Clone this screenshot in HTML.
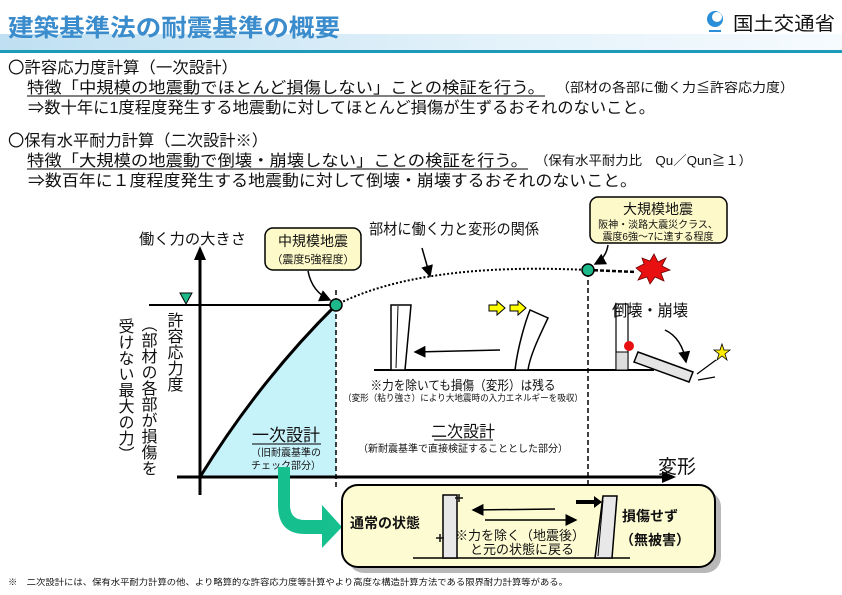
<!DOCTYPE html>
<html><head><meta charset="utf-8"><style>
body{margin:0;background:#fff}
svg{display:block}
text{font-family:"Liberation Sans","Noto Sans CJK JP",sans-serif;fill:#111}
</style></head><body>
<svg width="842" height="595" viewBox="0 0 842 595" xmlns="http://www.w3.org/2000/svg">
<defs>
<linearGradient id="band" x1="0" y1="0" x2="1" y2="0"><stop offset="0" stop-color="#bfe0f2"/><stop offset="0.6" stop-color="#e4f2fa"/><stop offset="1" stop-color="#f6fbfe"/></linearGradient>
<marker id="ah" markerWidth="8" markerHeight="8" refX="7" refY="4" orient="auto"><path d="M0,0 L8,4 L0,8 z" fill="#000"/></marker>
</defs>
<!-- header -->
<rect x="0" y="34" width="842" height="16" fill="url(#band)"/>
<rect x="0" y="50" width="842" height="3" fill="#1d9ab8"/>
<text x="8" y="36" font-size="24" font-weight="bold" style="fill:#3a8ccc" textLength="332" lengthAdjust="spacingAndGlyphs">建築基準法の耐震基準の概要</text>
<circle cx="715" cy="19" r="8" fill="#2a8fd8"/><circle cx="717" cy="17" r="5" fill="#fff"/><rect x="709" y="30" width="12" height="2" fill="#2a8fd8"/>
<text x="733" y="30" font-size="19" textLength="102" lengthAdjust="spacingAndGlyphs">国土交通省</text>
<!-- text lines -->
<g font-size="16">
<text x="8" y="73" textLength="230" lengthAdjust="spacingAndGlyphs">〇許容応力度計算（一次設計）</text>
<text x="27" y="93" textLength="518" lengthAdjust="spacingAndGlyphs">特徴「中規模の地震動でほとんど損傷しない」ことの検証を行う。</text>
<text x="556" y="92" font-size="13" textLength="238" lengthAdjust="spacingAndGlyphs">（部材の各部に働く力≦許容応力度）</text>
<text x="28" y="113" textLength="627" lengthAdjust="spacingAndGlyphs">⇒数十年に1度程度発生する地震動に対してほとんど損傷が生ずるおそれのないこと。</text>
<text x="8" y="146" textLength="260" lengthAdjust="spacingAndGlyphs">〇保有水平耐力計算（二次設計※）</text>
<text x="27" y="166" textLength="501" lengthAdjust="spacingAndGlyphs">特徴「大規模の地震動で倒壊・崩壊しない」ことの検証を行う。</text>
<text x="535" y="165" font-size="13" textLength="217" lengthAdjust="spacingAndGlyphs">（保有水平耐力比　Qu／Qun≧１）</text>
<text x="28" y="186" textLength="609" lengthAdjust="spacingAndGlyphs">⇒数百年に１度程度発生する地震動に対して倒壊・崩壊するおそれのないこと。</text>
</g>
<line x1="27" y1="96" x2="545" y2="96" stroke="#000" stroke-width="1"/>
<line x1="27" y1="169" x2="528" y2="169" stroke="#000" stroke-width="1"/>

<!-- diagram -->
<path d="M200,477 Q260,380 336,305 L336,477 Z" fill="#c6f2fa"/>
<path d="M200,477 Q260,380 336,305" fill="none" stroke="#000" stroke-width="3"/>
<line x1="200" y1="495" x2="200" y2="258" stroke="#000" stroke-width="3"/>
<path d="M200,246 L194,260 L206,260 Z" fill="#000"/>
<line x1="177" y1="477" x2="664" y2="477" stroke="#000" stroke-width="3"/>
<path d="M676,477 L662,471 L662,483 Z" fill="#000"/>
<line x1="149" y1="305" x2="336" y2="305" stroke="#000" stroke-width="2"/>
<path d="M180,293 L192,293 L186,304 Z" fill="#1db98a" stroke="#000" stroke-width="1"/>
<line x1="336" y1="290" x2="336" y2="490" stroke="#000" stroke-width="1.5" stroke-dasharray="5,3"/>
<line x1="588" y1="272" x2="588" y2="492" stroke="#000" stroke-width="1.5" stroke-dasharray="5,3"/>
<path d="M336,305 Q420,262 588,270" fill="none" stroke="#000" stroke-width="2" stroke-dasharray="2,2"/>
<line x1="588" y1="270" x2="636" y2="272" stroke="#000" stroke-width="2.5" stroke-dasharray="4,2"/>
<circle cx="336" cy="305" r="6" fill="#1db98a" stroke="#000" stroke-width="1.5"/>
<circle cx="588" cy="270" r="6" fill="#1db98a" stroke="#000" stroke-width="1.5"/>
<path d="M636,268 L644,264 L642,258 L650,261 L654,254 L658,262 L666,258 L662,266 L670,270 L661,273 L664,281 L655,277 L650,284 L647,277 L638,280 L642,273 Z" fill="#e81010" stroke="#600" stroke-width="0.8"/>
<text x="139" y="244" font-size="15" textLength="107" lengthAdjust="spacingAndGlyphs">働く力の大きさ</text>
<text x="369" y="234" font-size="15" textLength="170" lengthAdjust="spacingAndGlyphs">部材に働く力と変形の関係</text>
<path d="M422,248 L430,276" stroke="#000" stroke-width="1.5" marker-end="url(#ah)"/>
<!-- callouts -->
<rect x="265" y="228" width="96" height="42" rx="8" fill="#fdf9c8" stroke="#000" stroke-width="1.5"/>
<text x="313" y="246" font-size="14" text-anchor="middle">中規模地震</text>
<text x="313" y="263" font-size="11" text-anchor="middle">（震度5強程度）</text>
<path d="M308,271 Q312,292 330,300" fill="none" stroke="#000" stroke-width="1.5" marker-end="url(#ah)"/>
<rect x="590" y="197" width="137" height="46" rx="8" fill="#fdf9c8" stroke="#000" stroke-width="1.5"/>
<text x="658" y="214" font-size="14" text-anchor="middle">大規模地震</text>
<text x="658" y="228" font-size="10" text-anchor="middle">阪神・淡路大震災クラス、</text>
<text x="658" y="240" font-size="10" text-anchor="middle">震度6強～7に達する程度</text>
<path d="M608,245 Q606,258 595,264" fill="none" stroke="#000" stroke-width="1.5" marker-end="url(#ah)"/>
<!-- vertical labels -->
<text x="173" y="312" font-size="16" style="writing-mode:tb" writing-mode="tb">許容応力度</text>
<text x="147" y="316" font-size="16" style="writing-mode:tb" writing-mode="tb">（部材の各部が損傷を</text>
<text x="124" y="318" font-size="16" style="writing-mode:tb" writing-mode="tb">受けない最大の力）</text>
<!-- design labels -->
<text x="286" y="441" font-size="17" text-anchor="middle">一次設計</text>
<line x1="252" y1="444" x2="321" y2="444" stroke="#000"/>
<text x="286" y="456" font-size="10" text-anchor="middle">（旧耐震基準の</text>
<text x="286" y="469" font-size="10" text-anchor="middle">チェック部分）</text>
<text x="463" y="437" font-size="16" text-anchor="middle">二次設計</text>
<line x1="434" y1="440" x2="493" y2="440" stroke="#000"/>
<text x="463" y="452" font-size="10" text-anchor="middle">（新耐震基準で直接検証することとした部分）</text>
<text x="658" y="473" font-size="19">変形</text>
<!-- middle illustration -->
<line x1="374" y1="370" x2="654" y2="370" stroke="#000" stroke-width="2"/>
<path d="M391,305 L411,305 L405,370 L391,370 Z" fill="#fff" stroke="#000" stroke-width="1.5"/>
<line x1="398" y1="306" x2="396" y2="368" stroke="#000"/>
<path d="M515,370 C518,345 526,320 530,310 L548,318 C540,335 530,355 528,370 Z" fill="#fff" stroke="#000" stroke-width="1.5"/>
<line x1="500" y1="350" x2="415" y2="352" stroke="#000" stroke-width="1.5" marker-end="url(#ah)"/>
<path d="M489,305 L497,305 L497,301 L505,308 L497,315 L497,311 L489,311 Z" fill="#ffff00" stroke="#000"/>
<path d="M510,305 L518,305 L518,301 L526,308 L518,315 L518,311 L510,311 Z" fill="#ffff00" stroke="#000"/>
<text x="463" y="390" font-size="13" text-anchor="middle" textLength="185" lengthAdjust="spacingAndGlyphs">※力を除いても損傷（変形）は残る</text>
<text x="463" y="401" font-size="9" text-anchor="middle" textLength="240" lengthAdjust="spacingAndGlyphs">（変形（粘り強さ）により大地震時の入力エネルギーを吸収）</text>
<!-- collapse -->
<text x="612" y="316" font-size="16" textLength="76" lengthAdjust="spacingAndGlyphs">倒壊・崩壊</text>
<rect x="616" y="304" width="12" height="66" fill="none" stroke="#000" stroke-width="1.2"/>
<rect x="616" y="352" width="12" height="18" fill="#ddd" stroke="#000"/>
<circle cx="629" cy="346" r="5" fill="#e81010"/>
<path d="M638,352 L693,372 L689,382 L634,362 Z" fill="#e4e4e4" stroke="#000" stroke-width="1.5"/>
<path d="M665,330 Q682,338 686,362" fill="none" stroke="#000" stroke-width="1.5" marker-end="url(#ah)"/>
<path d="M697,374 L716,360 M698,380 L715,377" stroke="#000" stroke-width="1.2"/>
<path d="M722,344 L724,350 L730,350 L725,354 L727,360 L722,356 L717,360 L719,354 L714,350 L720,350 Z" fill="#ffee00" stroke="#000" stroke-width="0.8"/>
<!-- green arrow -->
<path d="M278,467 L290,467 L290,505 Q290,520 305,520 L322,520 L322,505 L342,527 L322,548 L322,534 L305,534 Q278,534 278,505 Z" fill="#16c08e"/>
<!-- bottom box -->
<rect x="348" y="491" width="373" height="82" rx="16" fill="#888" opacity="0.6"/>
<rect x="342" y="485" width="373" height="82" rx="16" fill="#fdfbd2" stroke="#000" stroke-width="2"/>
<text x="350" y="528" font-size="14" font-weight="bold">通常の状態</text>
<line x1="413" y1="558" x2="630" y2="558" stroke="#000" stroke-width="1.5"/>
<rect x="443" y="495" width="14" height="63" fill="#e8e8e8" stroke="#000" stroke-width="1.5"/>
<path d="M455,498 L463,498 M459,494 L459,502 M436,538 L444,538 M440,534 L440,542" stroke="#111" stroke-width="1.5"/>
<path d="M595,558 L603,496 L617,496 L612,558 Z" fill="#e8e8e8" stroke="#000" stroke-width="1.5"/>
<line x1="603" y1="500" x2="598" y2="556" stroke="#000"/>
<path d="M576,500 L594,500 L594,496 L602,502 L594,508 L594,504 L576,504 Z" fill="#000"/>
<line x1="555" y1="509" x2="473" y2="510" stroke="#000" stroke-width="1.5" marker-end="url(#ah)"/>
<line x1="485" y1="520" x2="576" y2="520" stroke="#000" stroke-width="1.5" marker-end="url(#ah)"/>
<text x="520" y="540" font-size="13" text-anchor="middle">※力を除く（地震後）</text>
<text x="522" y="554" font-size="13" text-anchor="middle">と元の状態に戻る</text>
<text x="622" y="521" font-size="14" font-weight="bold">損傷せず</text>
<text x="620" y="545" font-size="14" font-weight="bold">（無被害）</text>
<!-- footnote -->
<text x="8" y="585" font-size="8.5" textLength="560" lengthAdjust="spacingAndGlyphs">※　二次設計には、保有水平耐力計算の他、より略算的な許容応力度等計算やより高度な構造計算方法である限界耐力計算等がある。</text>
</svg>
</body></html>
